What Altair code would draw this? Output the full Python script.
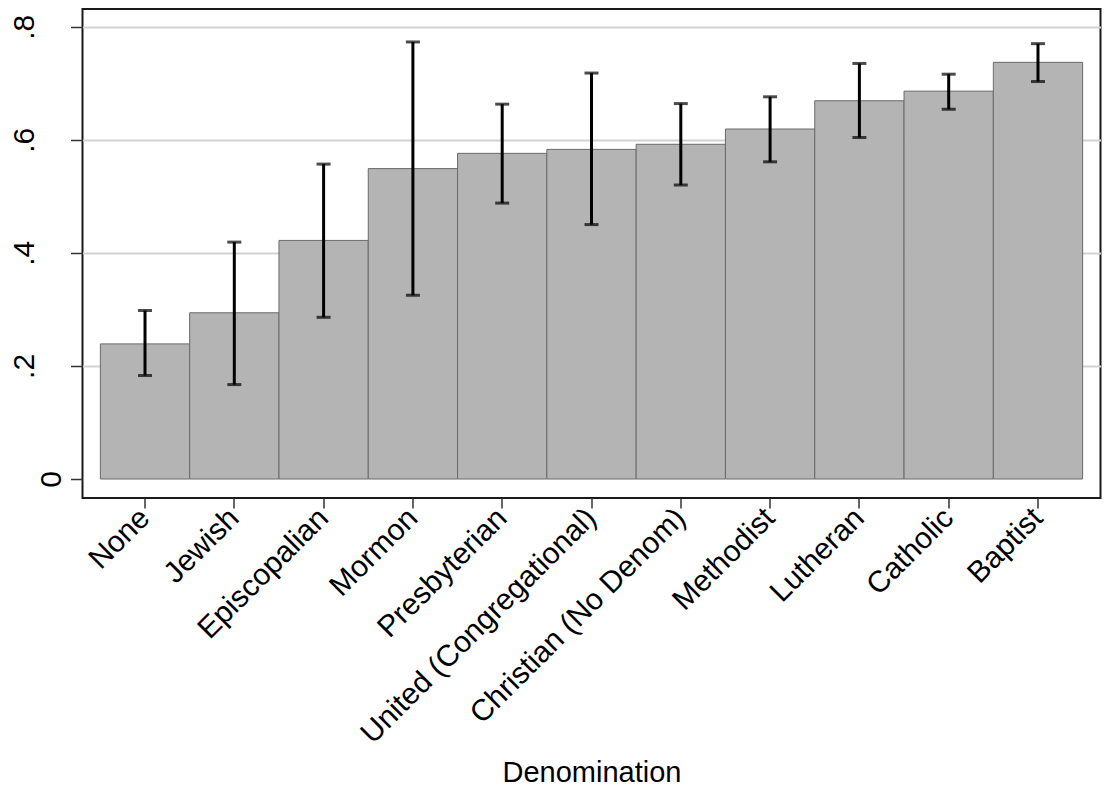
import altair as alt
import pandas as pd

categories = ["None", "Jewish", "Episcopalian", "Mormon", "Presbyterian",
              "United (Congregational)", "Christian (No Denom)", "Methodist",
              "Lutheran", "Catholic", "Baptist"]
means = [0.239, 0.294, 0.422, 0.549, 0.576, 0.583, 0.592, 0.619, 0.669, 0.686, 0.737]
lower = [0.183, 0.167, 0.286, 0.325, 0.488, 0.450, 0.520, 0.561, 0.604, 0.654, 0.703]
upper = [0.298, 0.419, 0.557, 0.773, 0.663, 0.718, 0.664, 0.676, 0.735, 0.716, 0.770]
y_ticks = [0, 0.2, 0.4, 0.6, 0.8]

df = pd.DataFrame({"denom": categories, "mean": means, "lo": lower, "hi": upper})

FONT = "Liberation Sans"
xscale = alt.Scale(paddingInner=0, paddingOuter=0.2)
yscale = alt.Scale(domain=[-0.0336, 0.8313], nice=False, zero=False)

xaxis = alt.Axis(
    labelAngle=315, labelAlign="right", labelBaseline="middle", labelPadding=5,
    labelLimit=0, labelFontSize=30, labelFont=FONT, labelColor="black",
    tickSize=10, tickWidth=1.5, tickColor="#333333", domain=False, grid=False,
    labelOverlap=False,
    title="Denomination", titleFontSize=29, titleFont=FONT, titleColor="black",
    titleFontWeight="normal", titleBaseline="alphabetic", titleY=283,
)

yaxis = alt.Axis(
    values=y_ticks,
    labelExpr="datum.value === 0 ? '0' : replace(format(datum.value, '.1f'), '0.', '.')",
    labelAngle=270, labelAlign="center", labelBaseline="alphabetic",
    labelPadding={"condition": {"test": "datum.value === 0", "value": 10}, "value": 37},
    labelFontSize=30, labelFont=FONT, labelColor="black", labelFlush=False,
    labelOverlap=False,
    tickSize=12, tickWidth=1.5, tickColor="#333333", domain=False,
    grid=True, gridColor="#d2d2d2", gridWidth=2,
    gridOpacity={"condition": {"test": "datum.value === 0", "value": 0}, "value": 1},
    title=None,
)

X = alt.X("denom:N", sort=categories, scale=xscale, axis=xaxis)

bars = alt.Chart(df).mark_bar(color="#b4b4b4", stroke="#6a6a6a", strokeWidth=1).encode(
    x=X,
    y=alt.Y("mean:Q", scale=yscale, axis=yaxis),
)

rules = alt.Chart(df).mark_rule(color="black", strokeWidth=3).encode(
    x=X,
    y=alt.Y("lo:Q", scale=yscale, axis=yaxis),
    y2="hi:Q",
)

caps_lo = alt.Chart(df).mark_tick(color="black", size=14, thickness=3).encode(
    x=X,
    y=alt.Y("lo:Q", scale=yscale, axis=yaxis),
)
caps_hi = alt.Chart(df).mark_tick(color="black", size=14, thickness=3).encode(
    x=X,
    y=alt.Y("hi:Q", scale=yscale, axis=yaxis),
)

chart = alt.layer(bars, rules, caps_lo, caps_hi).properties(
    width=1018,
    height=489,
    autosize=alt.AutoSizeParams(type="none"),
    padding={"left": 74.5, "top": 1, "right": 1, "bottom": 290},
    background="white",
).configure_view(stroke="#1a1a1a", strokeWidth=2)

chart.save("out.html", embed_options={"renderer": "svg", "actions": False})
